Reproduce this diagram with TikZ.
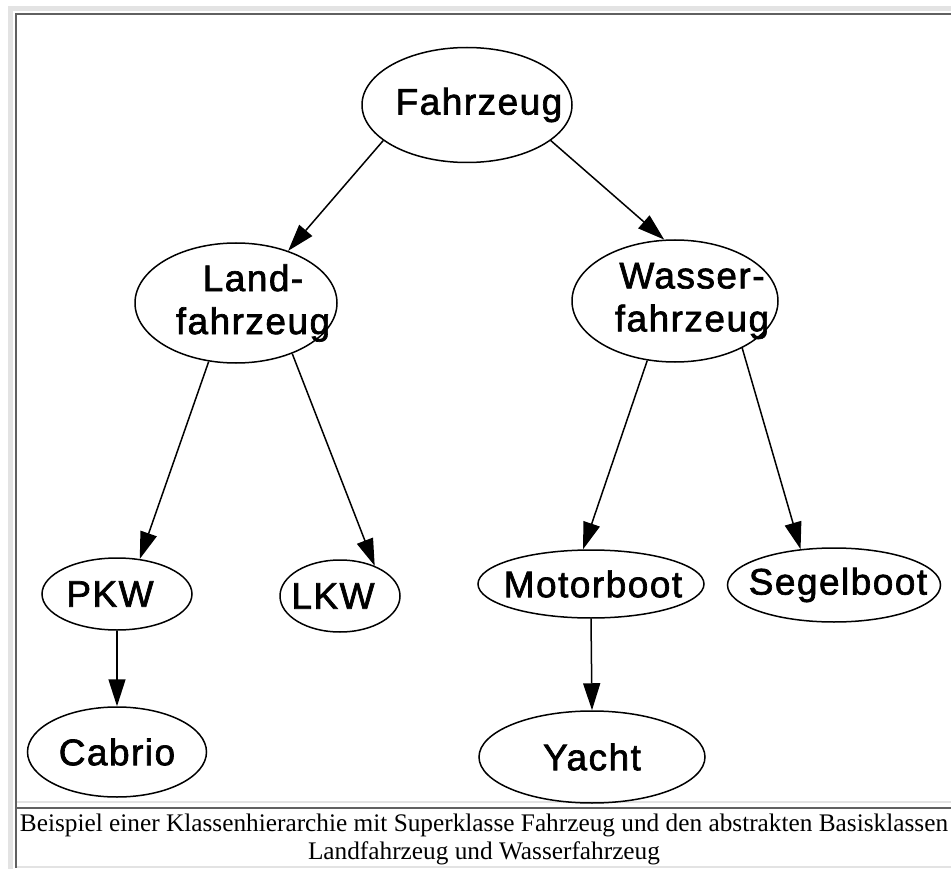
\documentclass[tikz,border=0pt]{standalone}
\usepackage{fontspec}
\setmainfont{Liberation Serif}
\newfontfamily\nodefont[LetterSpace=4, FakeBold=1.8]{Liberation Sans}
\usetikzlibrary{shapes.geometric,arrows.meta}
\definecolor{framelight}{HTML}{E3E3E3}
\definecolor{framedark}{HTML}{606060}
\begin{document}
\begin{tikzpicture}[x=1pt,y=-1pt,
  cls/.style={draw, ellipse, inner sep=0pt, line width=1.5pt},
  lbl/.style={font=\nodefont\fontsize{37}{43}\selectfont, align=center, inner sep=0pt},
  edge/.style={line width=1.5pt, -{Triangle[length=27pt,width=17pt]}}]
\useasboundingbox (0,0) rectangle (951,869);
\fill[white] (0,0) rectangle (951,869);
% table frame around figure and caption
\fill[framelight] (8,6) rectangle (951,11);
\fill[framelight] (8,6) rectangle (13,869);
\fill[framedark] (15,13) rectangle (951,15);
\fill[framedark] (15,13) rectangle (17,868);
\fill[framelight] (17,801) rectangle (951,803);
\fill[framedark] (17,807) rectangle (951,809);
\fill[framelight] (17,866) rectangle (951,868);

% class nodes
\node[cls, minimum width=210pt, minimum height=115pt,
  label={[lbl,xshift=12pt]center:Fahrzeug}] (fz) at (467,105) {};
\node[cls, minimum width=202pt, minimum height=120pt,
  label={[lbl,xshift=17pt]center:{Land-\\fahrzeug}}] (land) at (236,303) {};
\node[cls, minimum width=206pt, minimum height=122pt,
  label={[lbl,xshift=17pt]center:{Wasser-\\fahrzeug}}] (wasser) at (675,301) {};
\node[cls, minimum width=150pt, minimum height=72pt,
  label={[lbl,xshift=-7pt]center:PKW}] (pkw) at (117,594) {};
\node[cls, minimum width=120pt, minimum height=72pt,
  label={[lbl,xshift=-7pt]center:LKW}] (lkw) at (340,596) {};
\node[cls, minimum width=226pt, minimum height=68pt,
  label={[lbl,xshift=2pt]center:Motorboot}] (motor) at (591,584) {};
\node[cls, minimum width=213pt, minimum height=74pt,
  label={[lbl,xshift=4pt]center:Segelboot}] (segel) at (834,585) {};
\node[cls, minimum width=179pt, minimum height=90pt,
  label={[lbl]center:Cabrio}] (cabrio) at (117,752) {};
\node[cls, minimum width=226pt, minimum height=92pt,
  label={[lbl]center:Yacht}] (yacht) at (592,757) {};

% inheritance edges
\draw[edge] (fz.203) -- (land.45);
\draw[edge] (fz.337) -- (wasser.100);
\draw[edge] (land.245) -- (pkw.57);
\draw[edge] (land.318) -- (lkw.41);
\draw[edge] (wasser.245) -- (motor.103);
\draw[edge] (wasser.325) -- (segel.133);
\draw[edge] (pkw.south) -- (cabrio.north);
\draw[edge] (motor.south) -- (yacht.north);

% caption
\node[font=\fontsize{25.3}{28}\selectfont, align=center, inner sep=0pt] (cap) at (484,839)
  {Beispiel einer Klassenhierarchie mit Superklasse Fahrzeug und den abstrakten Basisklassen\\
   Landfahrzeug und Wasserfahrzeug};
\end{tikzpicture}
\end{document}
